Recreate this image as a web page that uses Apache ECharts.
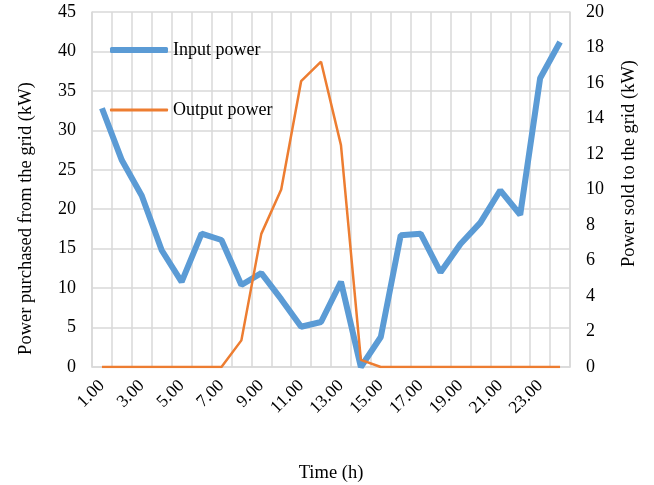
<!DOCTYPE html>
<html>
<head>
<meta charset="utf-8">
<script src="https://cdn.jsdelivr.net/npm/echarts@6/dist/echarts.min.js"></script>
<style>
  html, body { margin: 0; padding: 0; background: #fff; }
  #main { width: 654px; height: 485px; }
</style>
</head>
<body>
<div id="main"></div>
<script>
// categories: hours
const hours = ['1.00','2.00','3.00','4.00','5.00','6.00','7.00','8.00','9.00','10.00','11.00','12.00',
  '13.00','14.00','15.00','16.00','17.00','18.00','19.00','20.00','21.00','22.00','23.00','24.00'];
// power purchased from the grid (kW), left axis
const inputPower = [32.8, 26.2, 21.7, 14.8, 10.8, 16.9, 16.1, 10.4, 11.9, 8.6, 5.1, 5.7,
  10.8, 0, 3.8, 16.7, 16.9, 12.0, 15.6, 18.3, 22.4, 19.3, 36.6, 41.2];
// power sold to the grid (kW), right axis
const outputPower = [0, 0, 0, 0, 0, 0, 0, 1.5, 7.5, 10.0, 16.1, 17.2,
  12.5, 0.4, 0, 0, 0, 0, 0, 0, 0, 0, 0, 0];

const font = 'Liberation Serif, Times New Roman, serif';
const gridColor = '#d9d9d9';

const myChart = echarts.init(document.getElementById('main'), null, { renderer: 'canvas' });

function legendBox(name, top, h) {
  return {
    left: 105,
    top: top,
    icon: 'roundRect',
    itemWidth: 58,
    itemHeight: h,
    itemTextGap: 5,
    textStyle: { fontFamily: font, fontSize: 18, color: '#000' },
    data: [name]
  };
}

myChart.setOption({
  animation: false,
  textStyle: { fontFamily: font },
  color: ['#5b9bd5', '#ed7d31'],
  grid: { left: 92, right: 84, top: 12, bottom: 118, containLabel: false, outerBoundsMode: 'none' },
  legend: [
    legendBox('Input power', 36, 6),
    legendBox('Output power', 96, 3)
  ],
  xAxis: {
    type: 'category',
    data: hours,
    boundaryGap: true,
    name: 'Time (h)',
    nameLocation: 'middle',
    nameGap: 97,
    nameTextStyle: { fontFamily: font, fontSize: 18.5, color: '#000' },
    axisLine: { lineStyle: { color: gridColor, width: 1.5 } },
    axisTick: { show: false },
    splitLine: { show: true, interval: 0, lineStyle: { color: gridColor, width: 1.5 } },
    axisLabel: { interval: 1, rotate: 45, fontSize: 17.5, color: '#000', fontFamily: font, margin: 16 }
  },
  yAxis: [
    {
      type: 'value',
      min: 0, max: 45, interval: 5,
      name: 'Power purchased from the grid (kW)',
      nameLocation: 'middle',
      nameGap: 56,
      nameTextStyle: { fontFamily: font, fontSize: 18.5, color: '#000', padding: [0, 58, 0, 0] },
      axisLine: { show: true, lineStyle: { color: gridColor, width: 1.5 } },
      axisTick: { show: false },
      splitLine: { lineStyle: { color: gridColor, width: 1.5 } },
      axisLabel: { fontSize: 18, color: '#000', fontFamily: font, margin: 16 }
    },
    {
      type: 'value',
      min: 0, max: 20, interval: 2,
      name: 'Power sold to the grid (kW)',
      nameLocation: 'middle',
      nameGap: 50,
      nameTextStyle: { fontFamily: font, fontSize: 18.5, color: '#000', padding: [0, 0, 0, 52] },
      axisLine: { show: true, lineStyle: { color: gridColor, width: 1.5 } },
      axisTick: { show: false },
      splitLine: { show: false },
      axisLabel: { fontSize: 18, color: '#000', fontFamily: font, margin: 16 }
    }
  ],
  series: [
    {
      name: 'Input power',
      type: 'line',
      yAxisIndex: 0,
      data: inputPower,
      symbol: 'none',
      lineStyle: { width: 6, color: '#5b9bd5' }
    },
    {
      name: 'Output power',
      type: 'line',
      yAxisIndex: 1,
      data: outputPower,
      symbol: 'none',
      lineStyle: { width: 2.5, color: '#ed7d31' },
      z: 3
    }
  ]
});
</script>
</body>
</html>
